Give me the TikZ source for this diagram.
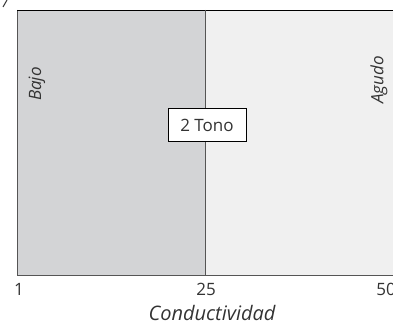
\documentclass[tikz,border=0pt]{standalone}
\usepackage{fontspec}
\setmainfont{Open Sans}
\usetikzlibrary{positioning}
\definecolor{lowband}{HTML}{D3D4D6}
\definecolor{highband}{HTML}{F0F0F0}
\definecolor{edge}{HTML}{555555}
\definecolor{ink}{HTML}{333333}
\tikzset{
  lbl/.style={font=\fontsize{17}{19}\selectfont\itshape,text=ink,inner sep=0pt},
  tick/.style={font=\fontsize{17}{19}\selectfont,text=ink,inner sep=0pt},
  tonebox/.style={draw=black,fill=white,font=\fontsize{17}{19}\selectfont,text=ink,
    minimum width=78pt,minimum height=33pt,inner sep=0pt}
}

\begin{document}
\begin{tikzpicture}[x=1pt,y=-1pt]
  \useasboundingbox (0,0) rectangle (393,329);

  % Bands
  \fill[lowband] (17,10) rectangle (205,275);
  \fill[highband] (205,10) rectangle (400,275);
  \draw[edge,thick] (17,10) -- (17,275) -- (400,275);
  \draw[black,thick] (17,10) -- (400,10);
  \draw[edge] (205,10) -- (205,275);

  % clipped mark at top left
  \draw[ink,line width=1pt] (3,7) -- (7,0);

  % Labels
  \node[lbl,rotate=90] (bajo) at (37,84) {Bajo};
  \node[lbl,rotate=90] (agudo) at (379,80) {Agudo};
  \node[tonebox] (tono) at (207,125) {2 Tono};

  % Axis
  \node[tick] (t1) at (19,289) {1};
  \node[tick] (t25) at (206,289) {25};
  \node[tick] (t50) at (386,289) {50};
  \node[lbl,font=\fontsize{20}{22}\selectfont\itshape] (axis) at (212,313) {Conductividad};
\end{tikzpicture}
\end{document}
